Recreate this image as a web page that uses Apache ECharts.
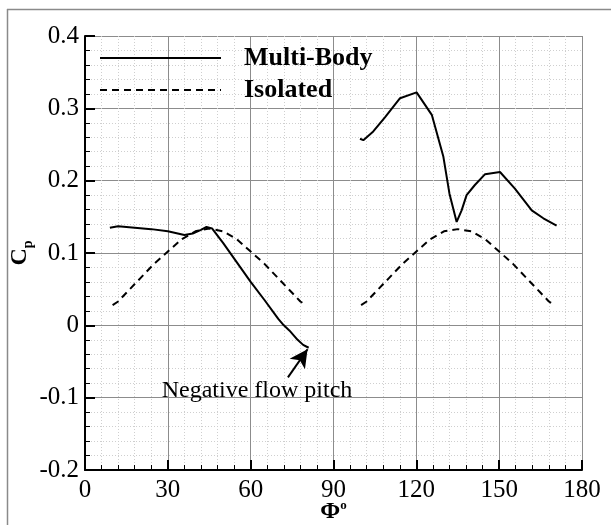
<!DOCTYPE html>
<html>
<head>
<meta charset="utf-8">
<script src="https://cdn.jsdelivr.net/npm/echarts@6/dist/echarts.min.js"></script>
<style>
  html, body { margin: 0; padding: 0; background: #fff; }
  #chart { width: 611px; height: 525px; }
</style>
</head>
<body>
<div id="chart"></div>
<script>
// Pressure coefficient against azimuth, two blade passes per series
const mbPhiA = [9, 12, 18, 24, 30, 36, 39, 42, 44, 46, 50, 55, 60, 65, 70, 72, 74, 77, 79, 81];
const mbCpA  = [0.135, 0.137, 0.135, 0.133, 0.130, 0.125, 0.127, 0.132, 0.136, 0.134, 0.114, 0.087, 0.060, 0.035, 0.009, 0.000, -0.007, -0.020, -0.027, -0.031];
const mbPhiB = [99.6, 100.8, 104.4, 108.7, 114.1, 120.1, 125.6, 129.8, 132, 134.6, 136.4, 138.2, 141.2, 144.9, 150.3, 155.7, 161.8, 166, 170.8];
const mbCpB  = [0.258, 0.256, 0.268, 0.288, 0.314, 0.322, 0.291, 0.233, 0.182, 0.143, 0.159, 0.180, 0.194, 0.209, 0.212, 0.189, 0.159, 0.148, 0.138];

const isoPhiA = [10, 12, 15, 20, 25, 30, 35, 40, 45, 50, 55, 60, 65, 70, 75, 78, 80];
const isoCpA  = [0.028, 0.033, 0.045, 0.065, 0.085, 0.102, 0.119, 0.130, 0.134, 0.130, 0.119, 0.102, 0.085, 0.065, 0.045, 0.033, 0.028];
const isoPhiB = [100, 102, 105, 110, 115, 120, 125, 130, 135, 140, 145, 150, 155, 160, 165, 168, 170];
const isoCpB  = [0.028, 0.033, 0.045, 0.065, 0.085, 0.102, 0.119, 0.130, 0.133, 0.130, 0.119, 0.102, 0.085, 0.065, 0.045, 0.033, 0.028];

const xTicks = [0, 30, 60, 90, 120, 150, 180];
const yTicks = ['-0.2', '-0.1', '0', '0.1', '0.2', '0.3', '0.4'];

// Annotation: arrow from label toward the end of the first Multi-Body pass
const noteText = 'Negative flow pitch';
const noteTextAt = [62.3, -0.09];
const arrowFrom = [73.5, -0.072];
const arrowTo = [80.6, -0.033];

const pairs = (xs, ys) => xs.map((x, i) => [x, ys[i]]);

const serif = 'Liberation Serif';
const solid = { color: '#000', width: 2, type: 'solid' };
const dashed = { color: '#000', width: 2, type: [7, 5] };

const chart = echarts.init(document.getElementById('chart'), null, { renderer: 'canvas' });

const axisCommon = {
  axisLine: { show: true, onZero: false, lineStyle: { color: '#000', width: 2 } },
  axisTick: { show: true, inside: true, length: 10, lineStyle: { color: '#000', width: 2 } },
  minorTick: { show: true, splitNumber: 5, length: 5, lineStyle: { color: '#000', width: 1 } },
  splitLine: { show: true, lineStyle: { color: '#8c8c8c', width: 1 } },
  minorSplitLine: { show: true, lineStyle: { color: '#cfcfcf', width: 1, type: [1, 2] } },
  axisLabel: { color: '#000', fontFamily: serif, fontSize: 25 }
};

chart.setOption({
  animation: false,
  backgroundColor: '#fff',
  grid: { left: 85, right: 29, top: 36, bottom: 55, containLabel: false, outerBoundsMode: 'none' },
  legend: {
    orient: 'vertical',
    left: 99,
    top: 45,
    padding: 0,
    itemWidth: 121,
    itemHeight: 14,
    itemGap: 6,
    data: ['Multi-Body', 'Isolated'],
    itemStyle: { color: 'rgba(0,0,0,0)', borderWidth: 0, opacity: 0 },
    lineStyle: { width: 2, color: '#000' },
    textStyle: { fontFamily: serif, fontSize: 26, fontWeight: 'bold', color: '#000', padding: [0, 0, 0, 18] }
  },
  xAxis: Object.assign({}, axisCommon, {
    type: 'value',
    min: 0, max: 180, interval: 30,
    axisLabel: Object.assign({}, axisCommon.axisLabel, {
      margin: 8,
      formatter: v => (xTicks.indexOf(v) >= 0 ? String(v) : '')
    }),
    name: '{a|Φ}{b|o}',
    nameLocation: 'middle',
    nameGap: 29,
    nameMoveOverlap: false,
    nameTextStyle: {
      rich: {
        a: { fontFamily: serif, fontSize: 24, fontWeight: 'bold', color: '#000', lineHeight: 26 },
        b: { fontFamily: serif, fontSize: 13, fontWeight: 'bold', color: '#000', verticalAlign: 'top', lineHeight: 26 }
      }
    }
  }),
  yAxis: Object.assign({}, axisCommon, {
    type: 'value',
    min: -0.2, max: 0.4, interval: 0.1,
    axisLabel: Object.assign({}, axisCommon.axisLabel, {
      margin: 6,
      formatter: v => yTicks[Math.round((v + 0.2) * 10)]
    }),
    name: '{c|C}{p|p}',
    nameLocation: 'middle',
    nameGap: 50,
    nameMoveOverlap: false,
    nameRotate: 90,
    nameTextStyle: {
      rich: {
        c: { fontFamily: serif, fontSize: 24, fontWeight: 'bold', color: '#000', lineHeight: 30 },
        p: { fontFamily: serif, fontSize: 14, fontWeight: 'bold', color: '#000', verticalAlign: 'bottom', lineHeight: 30 }
      }
    }
  }),
  graphic: [
    { type: 'line', shape: { x1: 7, y1: 9.5, x2: 611, y2: 9.5 }, style: { stroke: '#8a8a8a', lineWidth: 1.5 }, silent: true },
    { type: 'line', shape: { x1: 7.5, y1: 9, x2: 7.5, y2: 525 }, style: { stroke: '#8a8a8a', lineWidth: 1.5 }, silent: true }
  ],
  series: [
    {
      name: 'Multi-Body', type: 'line', showSymbol: false, symbol: 'none',
      data: pairs(mbPhiA, mbCpA), lineStyle: solid, itemStyle: { color: '#000' }, z: 4,
      markLine: {
        silent: true, symbol: ['none', 'arrow'], symbolSize: [14, 18],
        lineStyle: { color: '#000', width: 2, type: 'solid' },
        label: { show: false },
        data: [[{ coord: arrowFrom }, { coord: arrowTo }]]
      },
      markPoint: {
        silent: true, symbol: 'circle', symbolSize: 0,
        label: { show: true, position: 'inside', formatter: noteText, fontFamily: serif, fontSize: 24, color: '#000' },
        data: [{ coord: noteTextAt }]
      }
    },
    { name: 'Multi-Body', type: 'line', showSymbol: false, symbol: 'none', data: pairs(mbPhiB, mbCpB), lineStyle: solid, itemStyle: { color: '#000' }, z: 4 },
    { name: 'Isolated', type: 'line', showSymbol: false, symbol: 'none', data: pairs(isoPhiA, isoCpA), lineStyle: dashed, itemStyle: { color: '#000' }, z: 3 },
    { name: 'Isolated', type: 'line', showSymbol: false, symbol: 'none', data: pairs(isoPhiB, isoCpB), lineStyle: dashed, itemStyle: { color: '#000' }, z: 3 }
  ]
});
</script>
</body>
</html>
